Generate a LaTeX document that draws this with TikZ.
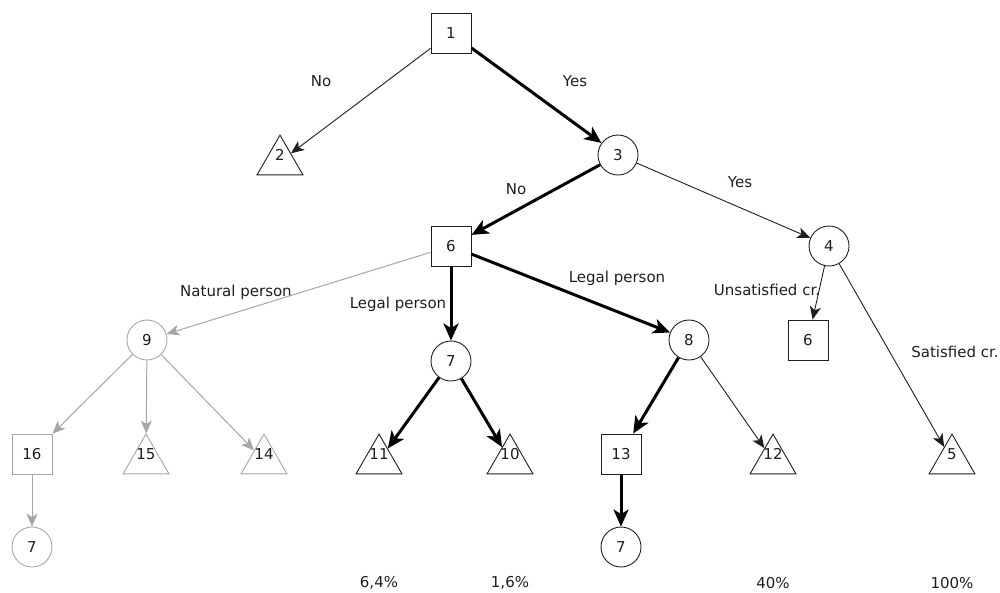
\documentclass[tikz,border=0pt]{standalone}
\usepackage{fontspec}
\setmainfont{DejaVu Sans}
\usetikzlibrary{arrows.meta,shapes.geometric}
\definecolor{ink}{HTML}{1E1E1E}
\definecolor{faded}{HTML}{A6A6A6}

\begin{document}
\begin{tikzpicture}[x=1pt,y=-1pt,
  every node/.style={font=\fontsize{15}{18}\selectfont, text=ink},
  decision/.style={draw=ink, line width=0.9pt, minimum size=40pt, inner sep=0pt},
  chance/.style={circle, draw=ink, line width=0.9pt, minimum size=40pt, inner sep=0pt},
  leaf/.style={regular polygon, regular polygon sides=3, draw=ink, line width=0.9pt,
    minimum size=53pt, inner sep=0pt, label={[text=ink, yshift=6.5pt]center:#1}},
  faded/.style={draw=faded},
  thin/.style={draw=ink, line width=0.9pt, -{Stealth[length=13pt,width=11pt,inset=3.5pt]}},
  bold/.style={draw=black, line width=3pt, -{Stealth[length=17pt,width=15pt,inset=4.5pt]}},
  greyed/.style={draw=faded, line width=1pt, -{Stealth[length=13pt,width=11pt,inset=3.5pt]}},
  edgelabel/.style={inner sep=0pt}
]
\useasboundingbox (0,0) rectangle (1000,592);

% decision and chance nodes
\node[decision] (n1) at (451,33) {1};
\node[leaf=2] (n2) at (280,161.6) {};
\node[chance] (n3) at (618,155) {3};
\node[chance] (n4) at (829,246) {4};
\node[decision] (n6) at (451,246) {6};
\node[decision] (n6b) at (808,340) {6};
\node[chance, faded] (n9) at (147,340) {9};
\node[chance] (n7) at (451,361) {7};
\node[chance] (n8) at (689,340) {8};

% lower level
\node[decision, faded] (n16) at (32,454) {16};
\node[leaf=15, faded] (n15) at (146,460.6) {};
\node[leaf=14, faded] (n14) at (264,460.6) {};
\node[leaf=11] (n11) at (379,460.6) {};
\node[leaf=10] (n10) at (510,460.6) {};
\node[decision] (n13) at (621,454) {13};
\node[leaf=12] (n12) at (773,460.6) {};
\node[leaf=5] (n5) at (952,460.6) {};
\node[chance, faded] (n7a) at (32,547) {7};
\node[chance] (n7b) at (621,547) {7};

% probabilities
\node (p11) at (379,583) {6,4\%};
\node (p10) at (510,583) {1,6\%};
\node (p12) at (773,583) {40\%};
\node (p5) at (952,583) {100\%};

% branch labels
\node[edgelabel] (lno1) at (321,81) {No};
\node[edgelabel] (lyes1) at (575,81) {Yes};
\node[edgelabel] (lno3) at (516,189) {No};
\node[edgelabel] (lyes3) at (740,182) {Yes};
\node[edgelabel] (lnat) at (236,292) {Natural person};
\node[edgelabel] (llegal1) at (398,304) {Legal person};
\node[edgelabel] (llegal2) at (617,278) {Legal person};
\node[edgelabel] (lunsat) at (767,290) {Unsatisfied cr.};
\node[edgelabel] (lsat) at (955,352) {Satisfied cr.};

% connectors
\draw[thin] (n1) -- (n2);
\draw[bold] (n1) -- (n3);
\draw[bold] (n3) -- (n6);
\draw[thin] (n3) -- (n4);
\draw[greyed] (n6) -- (n9);
\draw[bold] (n6) -- (n7);
\draw[bold] (n6) -- (n8);
\draw[thin] (n4) -- (n6b);
\draw[thin] (n4) -- (n5);
\draw[greyed] (n9) -- (n16);
\draw[greyed] (n9) -- (n15);
\draw[greyed] (n9) -- (n14);
\draw[bold] (n7) -- (n11);
\draw[bold] (n7) -- (n10);
\draw[bold] (n8) -- (n13);
\draw[thin] (n8) -- (n12);
\draw[greyed] (n16) -- (n7a);
\draw[bold] (n13) -- (n7b);
\end{tikzpicture}
\end{document}
